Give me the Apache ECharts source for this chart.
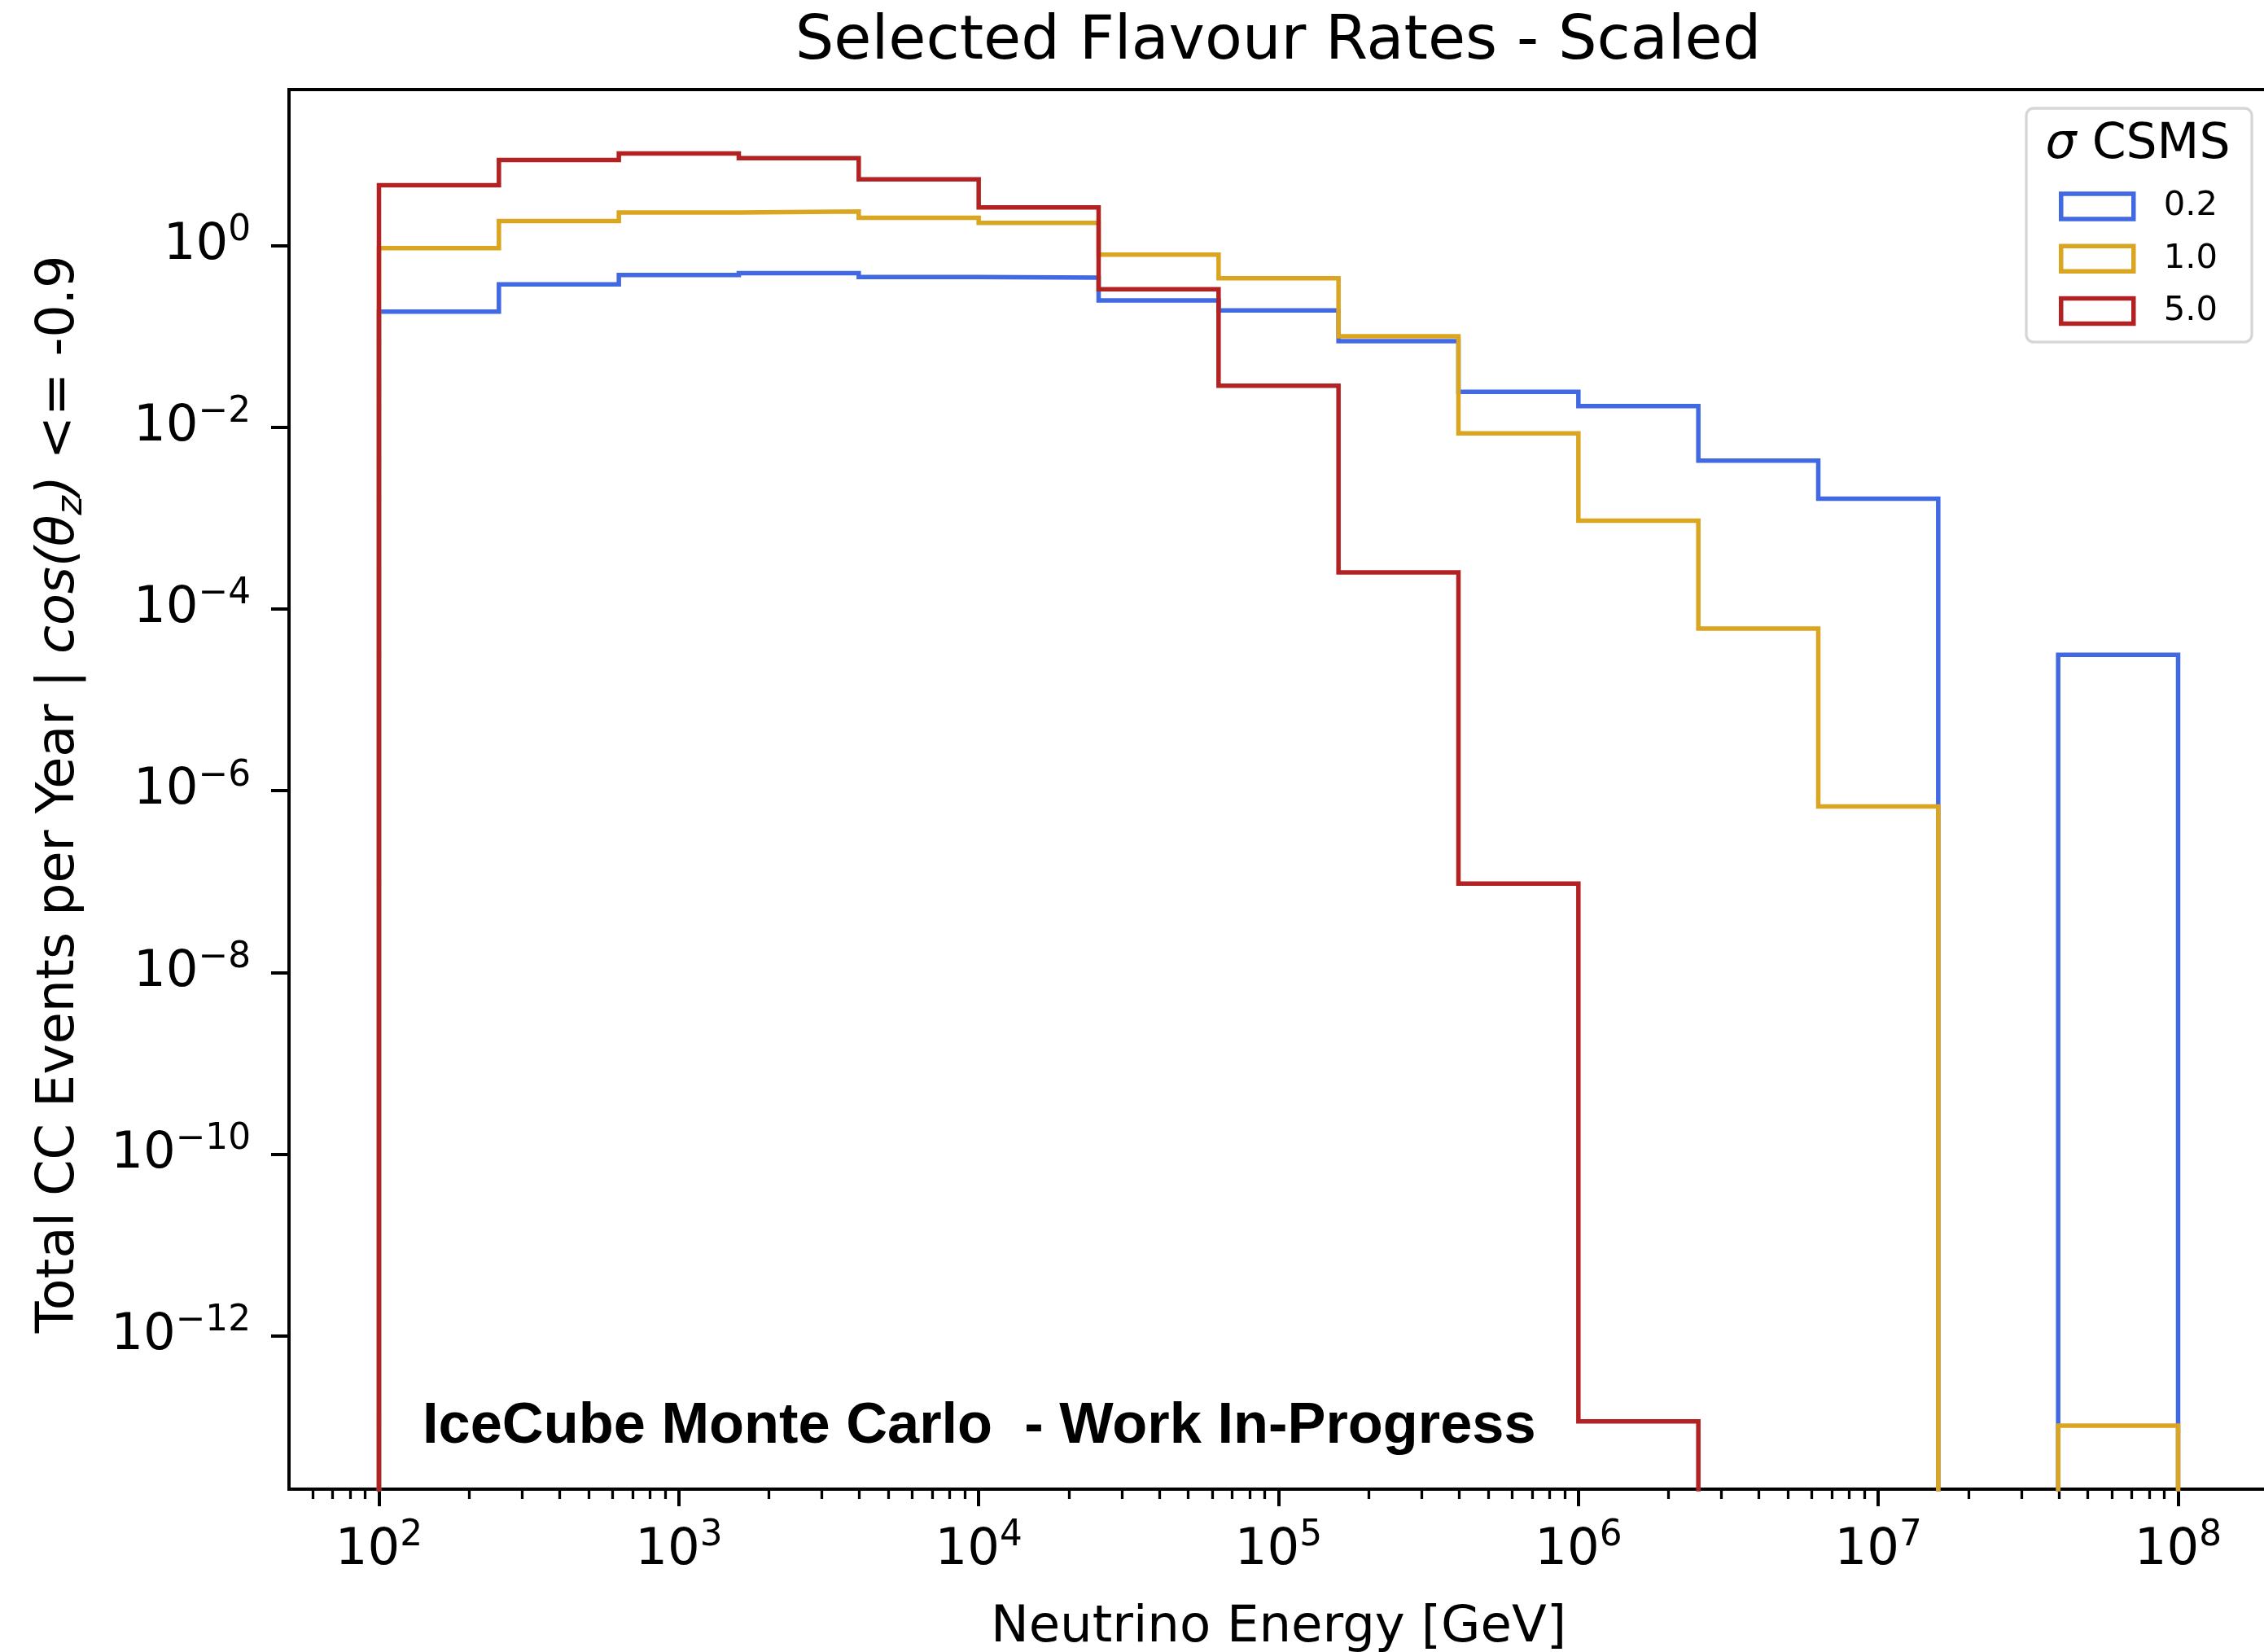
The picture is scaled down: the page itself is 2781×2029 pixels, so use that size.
<!DOCTYPE html>
<html>
<head>
<meta charset="utf-8">
<script src="https://cdn.jsdelivr.net/npm/echarts@6/dist/echarts.min.js"></script>
<style>
html,body{margin:0;padding:0;background:#fff;}
#chart{width:2781px;height:2029px;}
</style>
</head>
<body>
<div id="chart"></div>
<script>
// ---------------- data ----------------
// bin edges as log10(E / GeV)
const binEdgeExponents = [2.0, 2.4, 2.8, 3.2, 3.6, 4.0, 4.4, 4.8, 5.2, 5.6, 6.0, 6.4, 6.8, 7.2, 7.6, 8.0];
const seriesNames = ['0.2', '1.0', '5.0'];
// total CC events per year per bin (0 = empty bin)
const rates_0_2 = [0.188, 0.377, 0.477, 0.50, 0.452, 0.445, 0.25, 0.194, 0.089, 0.0247, 0.0172, 0.0043, 0.00164, 0, 3.13e-5];
const rates_1_0 = [0.944, 1.87, 2.32, 2.39, 2.03, 1.79, 0.80, 0.44, 0.1007, 0.0086, 9.4e-4, 6.1e-5, 6.7e-7, 0, 1.02e-13];
const rates_5_0 = [4.63, 8.8, 10.4, 9.2, 5.4, 2.65, 0.333, 0.0288, 2.53e-4, 9.5e-8, 1.14e-13, 0, 0, 0, 0];
const xTickExponents = [2, 3, 4, 5, 6, 7, 8];
const yTickExponents = [0, -2, -4, -6, -8, -10, -12];
const titleText = 'Selected Flavour Rates - Scaled';
const xAxisTitle = 'Neutrino Energy [GeV]';
const watermark = 'IceCube Monte Carlo  - Work In-Progress';

// ---------------- styling ----------------
const FONT = '"DejaVu Sans", "Liberation Sans", sans-serif';
const colors = ['#4169E1', '#DAA520', '#B22222'];
const X_MIN = 1.7, X_MAX = 8.3;
const Y_MIN = -13.69, Y_MAX = 1.72;
const FLOOR = -40; // empty bins drop below the axis

function stepPoints(vals) {
  const lg = v => (v > 0 ? Math.log10(v) : FLOOR);
  const pts = [[binEdgeExponents[0], FLOOR]];
  vals.forEach((v, i) => {
    pts.push([binEdgeExponents[i], lg(v)]);
    pts.push([binEdgeExponents[i + 1], lg(v)]);
  });
  pts.push([binEdgeExponents[binEdgeExponents.length - 1], FLOOR]);
  return pts;
}

const minorX = [];
for (let n = 1; n <= 8; n++) {
  for (let k = 2; k <= 9; k++) {
    const v = n + Math.log10(k);
    if (v > X_MIN + 1e-6 && v < X_MAX - 1e-6) minorX.push(v);
  }
}

const powLabel = v => {
  const e = Math.round(v);
  return '{b|10}{s|' + (e < 0 ? '\u2212' + (-e) : String(e)) + '}';
};
const powRich = {
  b: { fontFamily: FONT, fontSize: 62.5, lineHeight: 80, color: '#000' },
  s: { fontFamily: FONT, fontSize: 43.75, lineHeight: 45, verticalAlign: 'top', color: '#000' }
};

const allRates = [rates_0_2, rates_1_0, rates_5_0];

const option = {
  backgroundColor: '#fff',
  animation: false,
  grid: {
    left: 355, top: 110, width: 2431, height: 1719,
    show: true, borderColor: '#000', borderWidth: 4, backgroundColor: 'rgba(0,0,0,0)',
    containLabel: false, outerBoundsMode: 'none'
  },
  xAxis: [{
    type: 'value', min: X_MIN, max: X_MAX, position: 'bottom',
    axisLine: { show: true, onZero: false, lineStyle: { color: '#000', width: 4 } },
    axisTick: { show: true, customValues: xTickExponents, length: 21, lineStyle: { color: '#000', width: 4 } },
    axisLabel: { show: true, customValues: xTickExponents, formatter: powLabel, margin: 36, rich: powRich },
    splitLine: { show: false },
    name: xAxisTitle, nameLocation: 'middle', nameGap: 140, nameMoveOverlap: false,
    nameTextStyle: { fontFamily: FONT, fontSize: 62.5, color: '#000', lineHeight: 62.5 }
  }, {
    type: 'value', min: X_MIN, max: X_MAX, position: 'bottom',
    axisLine: { show: false, onZero: false },
    axisTick: { show: true, customValues: minorX, length: 12, lineStyle: { color: '#000', width: 3.3 } },
    axisLabel: { show: false },
    splitLine: { show: false }
  }],
  yAxis: {
    type: 'value', min: Y_MIN, max: Y_MAX,
    axisLine: { show: true, onZero: false, lineStyle: { color: '#000', width: 4 } },
    axisTick: { show: true, customValues: yTickExponents, length: 22, lineStyle: { color: '#000', width: 4 } },
    axisLabel: { show: true, customValues: yTickExponents, formatter: powLabel, margin: 47, rich: powRich },
    splitLine: { show: false },
    name: '{n|Total CC Events per Year | }{i|cos(θ}{s|z}{i|)}{n| <= -0.9}',
    nameLocation: 'middle', nameRotate: 90, nameGap: 244, nameMoveOverlap: false,
    nameTextStyle: {
      fontFamily: FONT, fontSize: 63.5, color: '#000', lineHeight: 75, padding: [0, 12, 0, 0],
      rich: {
        n: { fontFamily: FONT, fontSize: 63.5, lineHeight: 75, color: '#000' },
        i: { fontFamily: FONT, fontSize: 63.5, fontStyle: 'italic', lineHeight: 75, color: '#000' },
        s: { fontFamily: FONT, fontSize: 44.5, fontStyle: 'italic', lineHeight: 44, verticalAlign: 'bottom', color: '#000' }
      }
    }
  },
  legend: {
    orient: 'vertical', left: 2489, top: 133,
    padding: [99.5, 42, 17, 40],
    itemWidth: 89, itemHeight: 31, itemGap: 22.3,
    borderColor: '#d6d6d6', borderWidth: 3.3, borderRadius: 9, backgroundColor: '#fff',
    selectedMode: false,
    textStyle: { fontFamily: FONT, fontSize: 41.7, color: '#000', lineHeight: 31, padding: [0, 0, 0, 32] },
    data: seriesNames.map((n, i) => ({
      name: n, icon: 'rect',
      itemStyle: { color: 'rgba(255,255,255,0)', borderColor: colors[i], borderWidth: 5.5 }
    }))
  },
  series: seriesNames.map((n, i) => ({
    name: n, type: 'line', xAxisIndex: 0, yAxisIndex: 0,
    data: stepPoints(allRates[i]),
    showSymbol: false, symbol: 'none', clip: true,
    lineStyle: { color: colors[i], width: 5.5, join: 'miter', cap: 'butt' },
    itemStyle: { color: colors[i] },
    emphasis: { disabled: true }, z: 2 + i
  })),
  graphic: [
    { type: 'text', x: 1570, y: 53, z: 100,
      style: { text: titleText, fontFamily: FONT, fontSize: 75, fill: '#000', align: 'center', verticalAlign: 'middle' } },
    { type: 'text', x: 519, y: 1753, z: 100,
      style: { text: watermark, fontFamily: '"Liberation Sans", Arial, sans-serif', fontWeight: 'bold', fontSize: 70.4, fill: '#000', align: 'left', verticalAlign: 'middle' } },
    { type: 'text', x: 2626, y: 178, z: 100,
      style: {
        text: '{i|σ}{n| CSMS}', align: 'center', verticalAlign: 'middle',
        fontFamily: FONT, fontSize: 60, fill: '#000',
        rich: {
          i: { fontFamily: FONT, fontSize: 60, fontStyle: 'italic', fill: '#000' },
          n: { fontFamily: FONT, fontSize: 60, fill: '#000' }
        }
      } }
  ]
};

const chart = echarts.init(document.getElementById('chart'), null, { renderer: 'canvas', width: 2781, height: 2029 });
chart.setOption(option);
</script>
</body>
</html>
